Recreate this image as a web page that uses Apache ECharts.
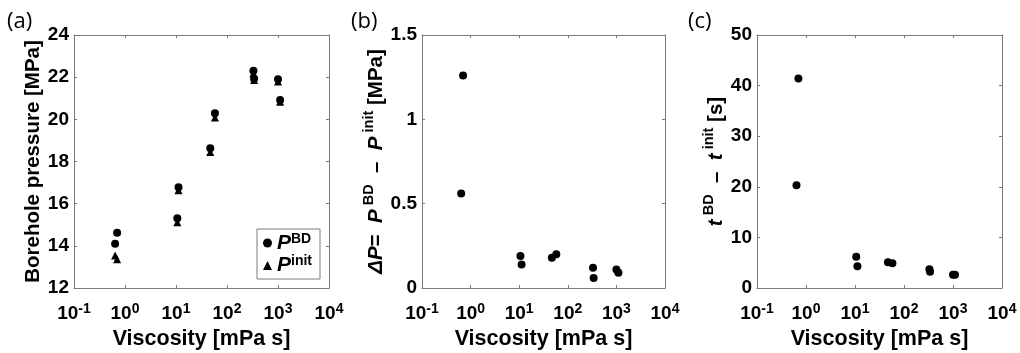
<!DOCTYPE html>
<html><head><meta charset="utf-8">
<script src="https://cdn.jsdelivr.net/npm/echarts@6/dist/echarts.min.js"></script>
<style>html,body{margin:0;padding:0;background:#fff}#c{width:1020px;height:353px}</style>
</head><body><div id="c"></div><script>
// ---- data ----
const viscosity = [0.64, 0.70, 10.6, 11.2, 47, 58, 330, 340, 1000, 1100];   // mPa s
const pressureBD = [14.10, 14.62, 15.31, 16.78, 18.63, 20.29, 22.30, 21.93, 21.90, 20.92]; // MPa
const pressureInit = [13.54, 13.36, 15.12, 16.64, 18.45, 20.09, 22.18, 21.87, 21.79, 20.83]; // MPa
const deltaP = [0.56, 1.26, 0.19, 0.14, 0.18, 0.20, 0.12, 0.06, 0.11, 0.09]; // MPa
const deltaT = [20.3, 41.4, 6.2, 4.3, 5.1, 4.9, 3.7, 3.2, 2.6, 2.6];         // s
const panelLabels = ['(a)', '(b)', '(c)'];
const xAxisTitle = 'Viscosity [mPa s]';
const yAxisA = {min: 12, max: 24, interval: 2};
const yAxisB = {min: 0, max: 1.5, interval: 0.5};
const yAxisC = {min: 0, max: 50, interval: 10};
const xRange = {min: 0.1, max: 10000};

const FONT = 'Liberation Sans';
const GRAY = '#7a7a7a';
const pairs = ys => viscosity.map((x, i) => [x, ys[i]]);

const grids = [
  {left: 74, top: 35, width: 255, height: 253},
  {left: 422, top: 35, width: 243, height: 253},
  {left: 757, top: 35, width: 245, height: 253}
];

const tickRich = {
  b: {fontSize: 19, fontWeight: 'bold', fontFamily: FONT, color: '#000', lineHeight: 24},
  s: {fontSize: 14, fontWeight: 'bold', fontFamily: FONT, color: '#000', lineHeight: 12, verticalAlign: 'top'}
};
const nameRich = {
  n: {fontSize: 20.5, fontWeight: 'bold', fontFamily: FONT, color: '#000', lineHeight: 30},
  i: {fontSize: 20.5, fontWeight: 'bold', fontStyle: 'italic', fontFamily: FONT, color: '#000', lineHeight: 30},
  s: {fontSize: 14.5, fontWeight: 'bold', fontFamily: FONT, color: '#000', lineHeight: 13, verticalAlign: 'top'}
};

function logLabel(v) {
  const e = Math.round(Math.log10(v));
  return '{b|10}{s|' + e + '}';
}

const xAxes = [], yAxes = [];
const yCfg = [yAxisA, yAxisB, yAxisC];
const yNames = [
  '{n|Borehole pressure [MPa]}',
  '{i|ΔP}{n|=  }{i|P}{s| BD}{n|  –  }{i|P}{s| init}{n| [MPa]}',
  '{i|t}{s| BD}{n|  –  }{i|t}{s| init}{n| [s]}'
];
const yGaps = [23, 27, 23];

for (let g = 0; g < 3; g++) {
  xAxes.push({
    type: 'log', logBase: 10, gridIndex: g, min: xRange.min, max: xRange.max, position: 'bottom',
    splitNumber: 5,
    name: xAxisTitle, nameLocation: 'middle', nameGap: 40,
    nameTextStyle: {fontSize: 21.5, fontWeight: 'bold', fontFamily: FONT, color: '#000'},
    axisLine: {show: true, onZero: false, lineStyle: {color: GRAY, width: 1}},
    axisTick: {show: true, inside: true, length: 3, lineStyle: {color: GRAY}},
    minorTick: {show: false}, splitLine: {show: false},
    axisLabel: {formatter: logLabel, rich: tickRich, margin: 14, showMinLabel: true, showMaxLabel: true, hideOverlap: false}
  });
  xAxes.push({
    type: 'log', logBase: 10, gridIndex: g, min: xRange.min, max: xRange.max, position: 'top',
    splitNumber: 5,
    axisLine: {show: true, onZero: false, lineStyle: {color: GRAY, width: 1}},
    axisTick: {show: true, inside: true, length: 3, lineStyle: {color: GRAY}},
    axisLabel: {show: false}, splitLine: {show: false}
  });
  yAxes.push({
    type: 'value', gridIndex: g, position: 'left',
    min: yCfg[g].min, max: yCfg[g].max, interval: yCfg[g].interval,
    name: yNames[g], nameLocation: 'middle', nameGap: yGaps[g], nameRotate: 90,
    nameTextStyle: {rich: nameRich, fontSize: 20.5, fontWeight: 'bold', fontFamily: FONT, color: '#000'},
    axisLine: {show: true, onZero: false, lineStyle: {color: GRAY, width: 1}},
    axisTick: {show: true, inside: true, length: 3, lineStyle: {color: GRAY}},
    splitLine: {show: false},
    axisLabel: {fontSize: 19, fontWeight: 'bold', fontFamily: FONT, color: '#000', margin: 5}
  });
  yAxes.push({
    type: 'value', gridIndex: g, position: 'right',
    min: yCfg[g].min, max: yCfg[g].max, interval: yCfg[g].interval,
    axisLine: {show: true, onZero: false, lineStyle: {color: GRAY, width: 1}},
    axisTick: {show: true, inside: true, length: 3, lineStyle: {color: GRAY}},
    axisLabel: {show: false}, splitLine: {show: false}
  });
}

const mk = {color: '#000', opacity: 1};
const series = [
  {name: 'Pinit', type: 'scatter', xAxisIndex: 0, yAxisIndex: 0, symbol: 'triangle', symbolSize: 8, itemStyle: mk, data: pairs(pressureInit), z: 2},
  {name: 'PBD', type: 'scatter', xAxisIndex: 0, yAxisIndex: 0, symbol: 'circle', symbolSize: 8, itemStyle: mk, data: pairs(pressureBD), z: 3},
  {name: 'dP', type: 'scatter', xAxisIndex: 2, yAxisIndex: 2, symbol: 'circle', symbolSize: 8, itemStyle: mk, data: pairs(deltaP)},
  {name: 'dt', type: 'scatter', xAxisIndex: 4, yAxisIndex: 4, symbol: 'circle', symbolSize: 8, itemStyle: mk, data: pairs(deltaT)}
];

const legendRich = {
  p: {fontSize: 21, fontWeight: 'bold', fontStyle: 'italic', fontFamily: FONT, color: '#000', lineHeight: 22},
  s: {fontSize: 14, fontWeight: 'bold', fontFamily: FONT, color: '#000', lineHeight: 12, verticalAlign: 'top'}
};

const option = {
  backgroundColor: '#fff',
  animation: false,
  textStyle: {fontFamily: FONT},
  grid: grids.map(g => Object.assign({containLabel: false, outerBoundsMode: 'none'}, g)),
  xAxis: xAxes,
  yAxis: yAxes,
  legend: {
    data: ['PBD', 'Pinit'], orient: 'vertical', left: 257, top: 229,
    padding: [3, 8, 3, 6], itemGap: 1, itemWidth: 9, itemHeight: 9,
    borderColor: GRAY, borderWidth: 1, backgroundColor: '#fff',
    formatter: n => n === 'PBD' ? '{p|P}{s|BD}' : '{p|P}{s|init}',
    textStyle: {rich: legendRich}
  },
  graphic: panelLabels.map((t, i) => ({
    type: 'text', left: [7, 351, 688][i], top: 11,
    style: {text: t, fontSize: 22, fontFamily: 'Open Sans', fill: '#000'}
  })),
  series: series
};
const chart = echarts.init(document.getElementById('c'), null, {renderer: 'canvas'});
chart.setOption(option);
</script></body></html>
